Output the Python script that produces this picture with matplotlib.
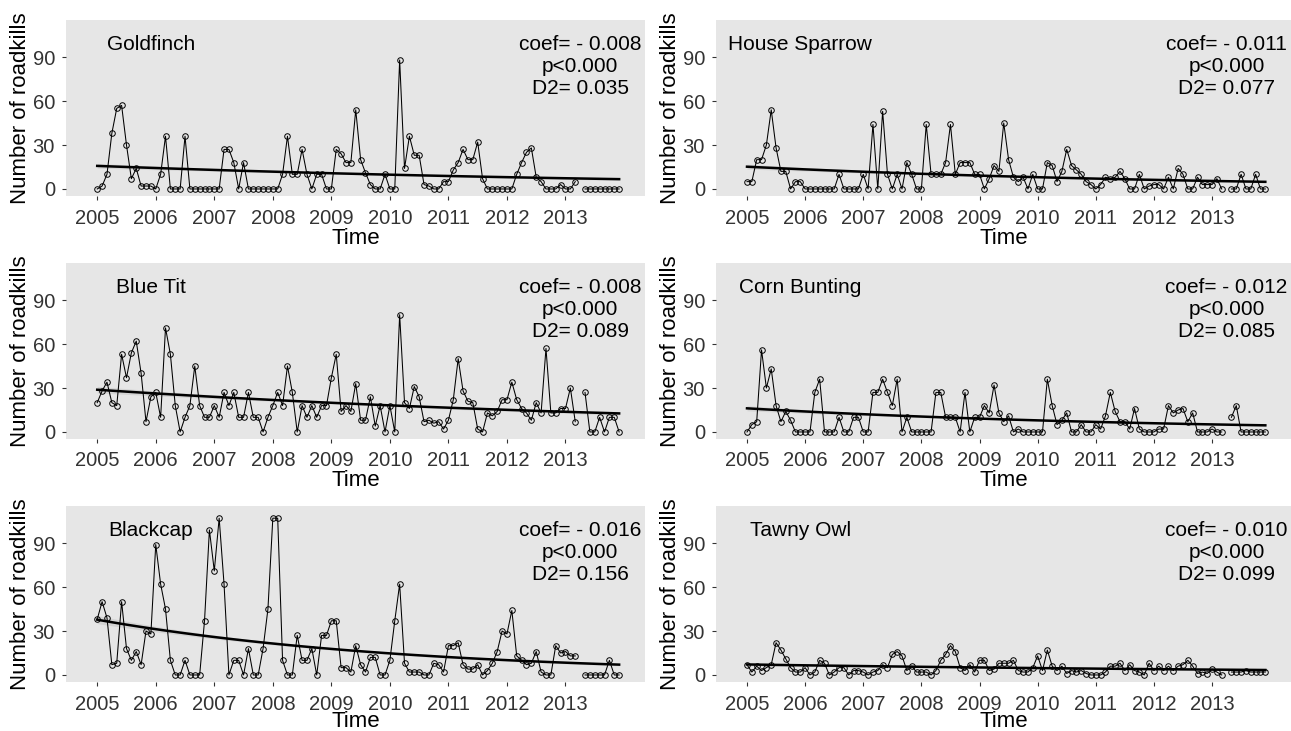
import numpy as np
import matplotlib
matplotlib.use("Agg")
import matplotlib.pyplot as plt

plt.rcParams['font.family'] = ['Liberation Sans', 'DejaVu Sans']

nan = np.nan
start_year = 2005
year_ticks = [2005, 2006, 2007, 2008, 2009, 2010, 2011, 2012, 2013]
y_ticks = [0, 30, 60, 90]

species = ["Goldfinch", "House Sparrow", "Blue Tit", "Corn Bunting", "Blackcap", "Tawny Owl"]
coef_text = ["coef= - 0.008", "coef= - 0.011", "coef= - 0.008", "coef= - 0.012", "coef= - 0.016", "coef= - 0.010"]
p_text = ["p<0.000"] * 6
d2_text = ["D2= 0.035", "D2= 0.077", "D2= 0.089", "D2= 0.085", "D2= 0.156", "D2= 0.099"]

goldfinch = [0, 2, 10, 38, 55, 57, 30, 7, 14, 2, 2, 2,
             0, 10, 36, 0, 0, 0, 36, 0, 0, 0, 0, 0,
             0, 0, 27, 27, 18, 0, 18, 0, 0, 0, 0, 0,
             0, 0, 10, 36, 10, 10, 27, 10, 0, 10, 10, 0,
             0, 27, 24, 18, 18, 54, 20, 11, 3, 0, 0, 10,
             0, 0, 88, 14, 36, 23, 23, 3, 2, 0, 0, 5,
             5, 13, 18, 27, 20, 20, 32, 7, 0, 0, 0, 0,
             0, 0, 10, 18, 25, 28, 8, 5, 0, 0, 0, 3,
             0, 0, 5, nan, 0, 0, 0, 0, 0, 0, 0, 0]

house_sparrow = [5, 5, 20, 20, 30, 54, 28, 12, 12, 0, 5, 5,
                 0, 0, 0, 0, 0, 0, 0, 10, 0, 0, 0, 0,
                 10, 0, 44, 0, 53, 10, 0, 10, 0, 18, 10, 0,
                 0, 44, 10, 10, 10, 18, 44, 10, 18, 18, 18, 10,
                 10, 0, 7, 16, 12, 45, 20, 8, 5, 8, 0, 10,
                 0, 0, 18, 16, 5, 12, 27, 16, 13, 10, 5, 3,
                 0, 3, 8, 7, 8, 12, 7, 0, 0, 10, 0, 2,
                 3, 3, 0, 8, 0, 14, 10, 0, 0, 8, 3, 3,
                 3, 7, 0, nan, 0, 0, 10, 0, 0, 10, 0, 0]

blue_tit = [20, 28, 34, 20, 18, 53, 37, 54, 62, 40, 7, 24,
            27, 10, 71, 53, 18, 0, 10, 18, 45, 18, 10, 10,
            18, 10, 27, 18, 27, 10, 10, 27, 10, 10, 0, 10,
            18, 27, 18, 45, 27, 0, 18, 10, 18, 10, 18, 18,
            37, 53, 14, 18, 14, 33, 8, 8, 24, 4, 18, 0,
            18, 0, 80, 20, 16, 31, 24, 7, 8, 6, 7, 2,
            8, 22, 50, 28, 21, 20, 2, 0, 13, 11, 14, 22,
            22, 34, 22, 16, 13, 8, 20, 13, 57, 13, 13, 16,
            16, 30, 7, nan, 27, 0, 0, 10, 0, 10, 10, 0]

corn_bunting = [0, 5, 7, 56, 30, 43, 18, 7, 14, 8, 0, 0,
                0, 0, 27, 36, 0, 0, 0, 10, 0, 0, 10, 10,
                0, 0, 27, 27, 36, 27, 18, 36, 0, 10, 0, 0,
                0, 0, 0, 27, 27, 10, 10, 10, 0, 27, 0, 10,
                10, 18, 13, 32, 13, 7, 11, 0, 2, 0, 0, 0,
                0, 0, 36, 18, 5, 8, 13, 0, 0, 5, 0, 0,
                5, 2, 11, 27, 14, 7, 7, 2, 16, 2, 0, 0,
                0, 2, 2, 18, 13, 15, 16, 7, 13, 0, 0, 0,
                2, 0, 0, nan, 10, 18, 0, 0, 0, 0, 0, 0]

blackcap = [38, 50, 39, 7, 8, 50, 18, 10, 16, 7, 30, 28,
            89, 62, 45, 10, 0, 0, 10, 0, 0, 0, 37, 99,
            71, 107, 62, 0, 10, 10, 0, 18, 0, 0, 18, 45,
            107, 107, 10, 0, 0, 27, 10, 10, 18, 0, 27, 27,
            37, 37, 5, 5, 2, 20, 7, 2, 12, 12, 0, 0,
            10, 37, 62, 8, 2, 2, 2, 0, 0, 8, 7, 2,
            20, 20, 22, 7, 4, 4, 7, 0, 3, 8, 16, 30,
            28, 44, 13, 10, 7, 8, 16, 2, 0, 0, 20, 15,
            16, 13, 13, nan, 0, 0, 0, 0, 0, 10, 0, 0]

tawny_owl = [7, 2, 6, 3, 5, 7, 22, 17, 11, 5, 2, 2,
             5, 0, 2, 10, 8, 0, 2, 5, 5, 0, 3, 3,
             2, 0, 2, 3, 7, 5, 14, 16, 13, 3, 6, 2,
             2, 2, 0, 3, 10, 14, 20, 16, 5, 3, 7, 2,
             10, 10, 3, 4, 8, 8, 8, 10, 3, 2, 2, 5,
             13, 3, 17, 6, 3, 6, 1, 3, 2, 3, 1, 0,
             0, 0, 2, 6, 6, 8, 3, 7, 3, 2, 0, 8,
             3, 6, 3, 6, 3, 6, 7, 10, 6, 1, 2, 1,
             4, 2, 0, nan, 2, 2, 2, 3, 2, 2, 2, 2]

series = [goldfinch, house_sparrow, blue_tit, corn_bunting, blackcap, tawny_owl]


def poisson_fit(t, y):
    m = ~np.isnan(y)
    X = np.column_stack([np.ones(m.sum()), t[m]])
    yy = y[m]
    beta = np.array([np.log(yy.mean()), 0.0])
    for _ in range(100):
        eta = X @ beta
        mu = np.exp(eta)
        z = eta + (yy - mu) / mu
        W = mu
        XtW = X.T * W
        beta = np.linalg.solve(XtW @ X, XtW @ z)
    eta = X @ beta
    mu = np.exp(eta)
    cov = np.linalg.inv((X.T * mu) @ X)
    return beta, cov


bg = '#E6E6E6'
W, H = 1291, 731
fig = plt.figure(figsize=(W / 100, H / 100), dpi=100)

col_x = [(66, 645), (716, 1291)]
row_y = [(20, 196), (263, 439), (506, 682)]

for k, (name, vals) in enumerate(zip(species, series)):
    r, c = divmod(k, 2)
    x0, x1 = col_x[c]
    y0, y1 = row_y[r]
    ax = fig.add_axes([x0 / W, 1 - y1 / H, (x1 - x0) / W, (y1 - y0) / H])
    ax.set_facecolor(bg)
    for s in ax.spines.values():
        s.set_visible(False)

    y = np.array(vals, dtype=float)
    idx = np.arange(len(y))
    t = start_year + idx / 12.0

    beta, cov = poisson_fit(idx.astype(float), y)
    Xf = np.column_stack([np.ones(len(idx)), idx])
    eta = Xf @ beta
    se = np.sqrt(np.einsum('ij,jk,ik->i', Xf, cov, Xf))
    ax.fill_between(t, np.exp(eta - 1.96 * se), np.exp(eta + 1.96 * se),
                    color='#C8C8C8', alpha=0.6, lw=0, zorder=1)

    ax.plot(t, y, color='black', lw=0.75, marker='o', ms=4.0,
            mfc='none', mec='black', mew=0.7, zorder=2)
    ax.plot(t, np.exp(eta), color='black', lw=1.8, zorder=3)

    ax.set_xlim(start_year - 6.4 / 12, start_year + 112.3 / 12)
    ax.set_ylim(-4.8, 115.3)
    ax.set_xticks(year_ticks)
    ax.set_xticklabels([str(v) for v in year_ticks])
    ax.set_yticks(y_ticks)
    ax.tick_params(axis='both', length=3, width=0.8, color='#333333',
                   labelsize=14.5, labelcolor='#333333')
    ax.tick_params(axis='x', pad=6)
    ax.tick_params(axis='y', pad=5)
    ax.set_xlabel('Time', fontsize=16, labelpad=(-2 if r == 2 else 0))
    ax.set_ylabel('Number of roadkills', fontsize=16, labelpad=1)

    ax.text(start_year + 11 / 12, 98.6, name, ha='center', va='center',
            fontsize=15, color='black')
    xt = start_year + 99 / 12
    ax.text(xt, 98.6, coef_text[k], ha='center', va='center', fontsize=15)
    ax.text(xt, 83.7, p_text[k], ha='center', va='center', fontsize=15)
    ax.text(xt, 68.8, d2_text[k], ha='center', va='center', fontsize=15)

fig.savefig('out.png', dpi=100, facecolor='white')
